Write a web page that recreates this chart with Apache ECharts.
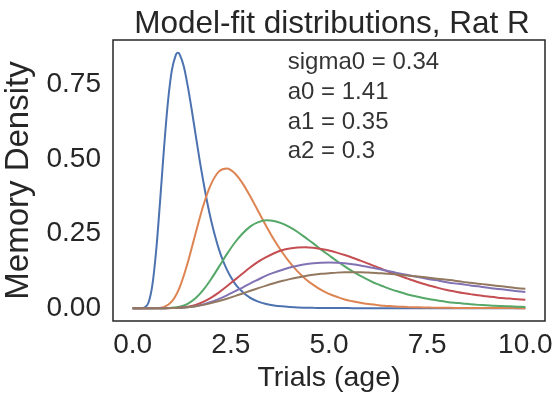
<!DOCTYPE html>
<html>
<head>
<meta charset="utf-8">
<script src="https://cdn.jsdelivr.net/npm/echarts@6/dist/echarts.min.js"></script>
<style>
  html, body { margin: 0; padding: 0; background: #ffffff; }
  #chart { width: 556px; height: 395px; }
</style>
</head>
<body>
<div id="chart"></div>
<script>
// Trial axis samples (age in trials)
const trials = [
  0.0, 0.2, 0.4, 0.6, 0.8, 1.0, 1.2, 1.4, 1.6, 1.8,
  2.0, 2.2, 2.4, 2.6, 2.8, 3.0, 3.2, 3.4, 3.6, 3.8,
  4.0, 4.2, 4.4, 4.6, 4.8, 5.0, 5.2, 5.4, 5.6, 5.8,
  6.0, 6.2, 6.4, 6.6, 6.8, 7.0, 7.2, 7.4, 7.6, 7.8,
  8.0, 8.2, 8.4, 8.6, 8.8, 9.0, 9.2, 9.4, 9.6, 9.8, 10.0
];
// The narrow first distribution is sampled more finely where it peaks
const trialsEarly = [
  0.0, 0.1, 0.2, 0.3, 0.4, 0.5, 0.6, 0.7, 0.8, 0.9,
  1.0, 1.1, 1.15, 1.2, 1.3, 1.4, 1.5, 1.6, 1.7, 1.8, 1.9,
  2.0, 2.1, 2.2, 2.3, 2.4, 2.5, 2.6, 2.7, 2.8, 2.9, 3.0,
  3.2, 3.4, 3.6, 3.8, 4.0, 4.2, 4.4, 4.6, 4.8, 5.0, 5.2, 5.4, 5.6, 5.8,
  6.0, 6.2, 6.4, 6.6, 6.8, 7.0, 7.2, 7.4, 7.6, 7.8,
  8.0, 8.2, 8.4, 8.6, 8.8, 9.0, 9.2, 9.4, 9.6, 9.8, 10.0
];

// Memory density of each fitted distribution
const density0 = [
  0, 0, 0, 0.0015, 0.0172, 0.0753, 0.194, 0.360, 0.538, 0.692,
  0.798, 0.848, 0.855, 0.849, 0.811, 0.746, 0.668, 0.584, 0.501, 0.424, 0.354,
  0.293, 0.241, 0.196, 0.159, 0.129, 0.104, 0.083, 0.067, 0.054, 0.043, 0.034,
  0.022, 0.014, 0.009, 0.006, 0.004, 0.0024, 0.0016, 0.001, 0.0007, 0.0004, 0.0003, 0.0002, 0.0001, 0,
  0, 0, 0, 0, 0, 0, 0, 0, 0, 0,
  0, 0, 0, 0, 0, 0, 0, 0, 0, 0, 0
];
const density1 = [
  0, 0, 0, 0.0002, 0.0038, 0.0224, 0.0707, 0.151, 0.249, 0.344,
  0.416, 0.458, 0.468, 0.452, 0.418, 0.373, 0.324, 0.275, 0.229, 0.189,
  0.153, 0.123, 0.098, 0.078, 0.061, 0.048, 0.038, 0.029, 0.023, 0.018,
  0.014, 0.011, 0.008, 0.0065, 0.005, 0.0039, 0.003, 0.0024, 0.0018, 0.0014,
  0.0011, 0.0009, 0.0007, 0.0005, 0.0004, 0.0003, 0.0003, 0.0002, 0.0002, 0.0001, 0.0001
];
const density2 = [
  0, 0, 0, 0, 0.0001, 0.001, 0.0047, 0.0145, 0.033, 0.0613,
  0.0978, 0.139, 0.181, 0.219, 0.25, 0.274, 0.288, 0.294, 0.292, 0.284,
  0.271, 0.255, 0.236, 0.217, 0.196, 0.177, 0.158, 0.14, 0.123, 0.108,
  0.095, 0.082, 0.072, 0.062, 0.054, 0.046, 0.04, 0.034, 0.029, 0.025,
  0.021, 0.018, 0.016, 0.013, 0.011, 0.01, 0.008, 0.007, 0.006, 0.005, 0.004
];
const density3 = [
  0, 0, 0, 0, 0, 0.0004, 0.0016, 0.0048, 0.0111, 0.0212,
  0.0353, 0.0529, 0.0731, 0.0947, 0.116, 0.137, 0.156, 0.171, 0.184, 0.194,
  0.2, 0.203, 0.204, 0.202, 0.198, 0.193, 0.186, 0.178, 0.169, 0.159,
  0.149, 0.139, 0.128, 0.118, 0.108, 0.099, 0.09, 0.082, 0.074, 0.067,
  0.061, 0.056, 0.051, 0.047, 0.043, 0.04, 0.037, 0.034, 0.032, 0.03, 0.028
];
const density4 = [
  0, 0, 0, 0, 0, 0.0003, 0.0012, 0.0031, 0.0067, 0.0123,
  0.021, 0.031, 0.043, 0.056, 0.069, 0.083, 0.096, 0.109, 0.119, 0.128,
  0.136, 0.142, 0.147, 0.15, 0.152, 0.153, 0.152, 0.15, 0.147, 0.143,
  0.138, 0.133, 0.127, 0.122, 0.116, 0.111, 0.106, 0.101, 0.096, 0.092,
  0.087, 0.083, 0.08, 0.076, 0.073, 0.069, 0.066, 0.063, 0.06, 0.057, 0.054
];
const density5 = [
  0, 0, 0, 0, 0, 0.0005, 0.0015, 0.0034, 0.0065, 0.011,
  0.0168, 0.0237, 0.0316, 0.0402, 0.0492, 0.0582, 0.0671, 0.0756, 0.0835, 0.0907,
  0.0972, 0.103, 0.108, 0.112, 0.115, 0.117, 0.119, 0.12, 0.12, 0.12,
  0.119, 0.118, 0.116, 0.114, 0.112, 0.109, 0.107, 0.104, 0.101, 0.098,
  0.095, 0.092, 0.088, 0.085, 0.082, 0.079, 0.076, 0.073, 0.07, 0.067, 0.065
];

// Fitted parameter notes and where they sit (data coordinates)
const paramNotes = ['sigma0 = 0.34', 'a0 = 1.41', 'a1 = 0.35', 'a2 = 0.3'];
const noteX = [4, 4, 4, 4];
const noteY = [0.8, 0.7, 0.6, 0.5];

// Tick labels
const xTicks = [0, 2.5, 5, 7.5, 10];
const yTicks = [0, 0.25, 0.5, 0.75];

const curves = [
  [trialsEarly, density0],
  [trials, density1],
  [trials, density2],
  [trials, density3],
  [trials, density4],
  [trials, density5]
];
const palette = ['#4c72b0', '#dd8452', '#55a868', '#c44e52', '#8172b3', '#937860'];

const FONT = '"Liberation Sans", Arial, sans-serif';
const INK = '#262626';

const chart = echarts.init(document.getElementById('chart'), null, { renderer: 'canvas' });

const lineSeries = curves.map(([xs, vals], k) => ({
  type: 'line',
  data: xs.map((x, i) => [x, vals[i]]),
  showSymbol: false,
  smooth: 0.3,
  lineStyle: { color: palette[k], width: 2 },
  itemStyle: { color: palette[k] },
  silent: true,
  animation: false
}));

const noteSeries = {
  type: 'scatter',
  data: noteX.map((x, i) => [x, noteY[i]]),
  symbolSize: 0,
  silent: true,
  animation: false,
  label: {
    show: true,
    position: [0, 0],
    align: 'left',
    verticalAlign: 'bottom',
    offset: [-2, 5],
    formatter: p => paramNotes[p.dataIndex],
    fontFamily: FONT,
    fontSize: 24,
    color: '#000000'
  }
};

chart.setOption({
  animation: false,
  backgroundColor: '#ffffff',
  title: {
    text: 'Model-fit distributions, Rat R',
    left: 327,
    top: 3,
    textAlign: 'center',
    textStyle: { fontFamily: FONT, fontSize: 31.5, fontWeight: 'normal', color: INK }
  },
  grid: {
    left: 113, right: 11, top: 40, bottom: 74,
    outerBoundsMode: 'none',
    containLabel: false,
    show: true, borderColor: INK, borderWidth: 1.5, backgroundColor: 'transparent'
  },
  xAxis: {
    type: 'value',
    min: -0.5, max: 10.5,
    name: 'Trials (age)',
    nameLocation: 'middle',
    nameGap: 42,
    nameTextStyle: { fontFamily: FONT, fontSize: 28.5, color: INK },
    axisLine: { show: false },
    axisTick: { show: false },
    splitLine: { show: false },
    axisLabel: {
      customValues: xTicks,
      formatter: v => v.toFixed(1),
      fontFamily: FONT, fontSize: 28, color: INK, margin: 10,
      showMinLabel: true, showMaxLabel: true
    }
  },
  yAxis: {
    type: 'value',
    min: -0.043, max: 0.898,
    name: 'Memory Density',
    nameLocation: 'middle',
    nameGap: 66,
    nameTextStyle: { fontFamily: FONT, fontSize: 33, color: INK },
    axisLine: { show: false },
    axisTick: { show: false },
    splitLine: { show: false },
    axisLabel: {
      customValues: yTicks,
      formatter: v => v.toFixed(2),
      fontFamily: FONT, fontSize: 28, color: INK, margin: 12
    }
  },
  series: lineSeries.concat([noteSeries])
});
</script>
</body>
</html>
